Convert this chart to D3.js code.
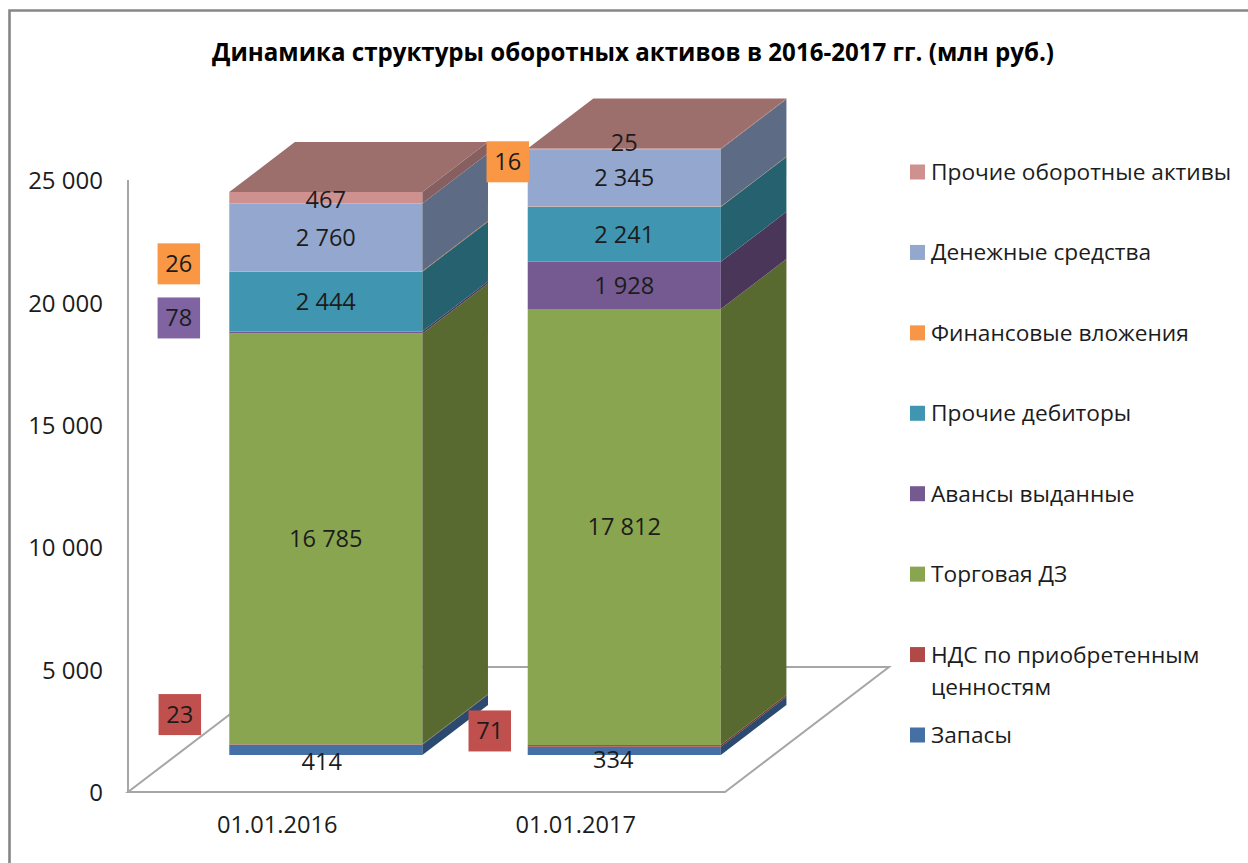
<!DOCTYPE html>
<html lang="ru">
<head>
<meta charset="utf-8">
<script src="https://cdn.jsdelivr.net/npm/d3@7/dist/d3.min.js"></script>
<style>
html,body{margin:0;padding:0;background:#fff;}
svg{display:block;}
text{font-family:"Open Sans",sans-serif;fill:#1c1c1c;}
</style>
</head>
<body>
<svg id="c" width="1248" height="863"></svg>
<script>
const title = "Динамика структуры оборотных активов в 2016-2017 гг. (млн руб.)";
const categories = ["01.01.2016", "01.01.2017"];
const seriesNames = ["Запасы", "НДС по приобретенным ценностям", "Торговая ДЗ", "Авансы выданные", "Прочие дебиторы", "Финансовые вложения", "Денежные средства", "Прочие оборотные активы"];
const values2016 = [414, 23, 16785, 78, 2444, 26, 2760, 467];
const values2017 = [334, 71, 17812, 1928, 2241, 16, 2345, 25];
const frontColors = ["#4470a6", "#b14a47", "#8aa54f", "#745a90", "#4096b1", "#f79646", "#94a8cf", "#cf9190"];
const sideColors = ["#2b4a70", "#75302e", "#596a31", "#4a3658", "#26616f", "#a4622c", "#5d6b84", "#866060"];
const boxColors = {1: "#c0504d", 3: "#8064a2", 5: "#f99745"};
const topColor = "#9c6e6c";
const yTicks = [0, 5000, 10000, 15000, 20000, 25000];

const columns = [values2016, values2017];
const fmt = v => d3.format(",")(v).replace(/,/g, " ");

// Scales: the front floor edge carries the categories, the wall carries the values
const x = d3.scaleBand().domain(categories).range([128, 725]).paddingInner(0.353).paddingOuter(0.1767);
const y = d3.scaleLinear().domain([0, 25000]).range([792, 180]);
const depth = {x: d3.scaleLinear().domain([0, 1]).range([0, 164]), y: d3.scaleLinear().domain([0, 1]).range([0, -125])};
const barZ = [0.296, 0.696];
const project = (px, v, z) => [px + depth.x(z), y(v) + depth.y(z)];
const poly = pts => pts.map(p => p.join(",")).join(" ");

const svg = d3.select("#c");

// Outer chart frame (top and left visible)
svg.append("path").attr("d", "M9.5,863V10.5H1248").attr("fill", "none").attr("stroke", "#868686").attr("stroke-width", 2.6);

// Floor and wall
const floorCorners = [[128, 0, 0], [725, 0, 0], [725, 0, 1], [128, 0, 1]];
svg.append("polygon").attr("points", poly(floorCorners.map(c => project(...c))))
  .attr("fill", "#fff").attr("stroke", "#a6a6a6").attr("stroke-width", 2);
svg.append("line").attr("x1", x.range()[0]).attr("x2", x.range()[0]).attr("y1", y(0)).attr("y2", y(25000))
  .attr("stroke", "#a6a6a6").attr("stroke-width", 2);

// Axes
const yAxis = d3.axisLeft(y).tickValues(yTicks).tickFormat(fmt).tickSize(0).tickPadding(25);
const gy = svg.append("g").attr("transform", "translate(128,1)").call(yAxis);
gy.select(".domain").remove();
gy.selectAll("text").attr("font-size", 24).attr("font-family", '"Open Sans",sans-serif');
const xAxis = d3.axisBottom(x).tickSize(0).tickPadding(24);
const gx = svg.append("g").attr("transform", "translate(0,792)").call(xAxis);
gx.select(".domain").remove();
gx.selectAll("text").attr("font-size", 23.6).attr("font-family", '"Open Sans",sans-serif');

// Stacked 3-D columns
categories.forEach((cat, ci) => {
  const vals = columns[ci];
  const x0 = x(cat), x1 = x0 + x.bandwidth();
  const g = svg.append("g");
  let acc = 0;
  const segs = vals.map((v, i) => { const s = {i, v, a: acc, b: acc + v}; acc += v; return s; });
  segs.forEach(s => {
    g.append("polygon").attr("points", poly([
      project(x0, s.a, barZ[0]), project(x1, s.a, barZ[0]), project(x1, s.b, barZ[0]), project(x0, s.b, barZ[0])
    ])).attr("fill", frontColors[s.i]);
    g.append("polygon").attr("points", poly([
      project(x1, s.a, barZ[0]), project(x1, s.a, barZ[1]), project(x1, s.b, barZ[1]), project(x1, s.b, barZ[0])
    ])).attr("fill", sideColors[s.i]);
  });
  g.append("polygon").attr("points", poly([
    project(x0, acc, barZ[0]), project(x1, acc, barZ[0]), project(x1, acc, barZ[1]), project(x0, acc, barZ[1])
  ])).attr("fill", topColor);
});

// Data labels. Small segments were moved aside by hand in the original: boxed ones by an offset from the bar centre.
const labelNudge = {
  "0-0": [-4, 12], "0-1": [-146, -30], "0-3": [-147, -14.5], "0-5": [-147, -7.5], "0-7": [0, 1.5],
  "1-0": [-11, 9], "1-1": [-134.5, -15], "1-5": [-116.5, -45], "1-7": [0, -6]
};
const boxed = new Set(["0-1", "0-3", "0-5", "1-1", "1-5"]);
categories.forEach((cat, ci) => {
  const vals = columns[ci];
  let acc = 0;
  vals.forEach((v, i) => {
    const key = ci + "-" + i;
    const n = labelNudge[key] || [0, 0];
    const [cx0, cy0] = project(x(cat) + x.bandwidth() / 2, acc + v / 2, barZ[0]);
    const cx = cx0 + n[0], cy = cy0 + n[1];
    if (boxed.has(key)) {
      svg.append("rect").attr("x", cx - 21.25).attr("y", cy - 20.5).attr("width", 42.5).attr("height", 41).attr("fill", boxColors[i]);
    }
    svg.append("text").attr("x", cx).attr("y", cy).attr("text-anchor", "middle").attr("dy", "0.35em")
      .attr("font-size", 23.6).text(fmt(v));
    acc += v;
  });
});

// Legend
const legendOrder = seriesNames.map((_, i) => i).reverse();
const ly = d3.scalePoint().domain(legendOrder).range([172, 735]);
legendOrder.forEach(i => {
  const cy = ly(i);
  svg.append("rect").attr("x", 910).attr("y", cy - 7.5).attr("width", 15).attr("height", 15).attr("fill", frontColors[i]);
  const name = seriesNames[i];
  const t = svg.append("text").attr("x", 931).attr("y", cy).attr("dy", "0.35em").attr("font-size", 22.7);
  if (name.startsWith("НДС")) {
    t.text("НДС по приобретенным");
    svg.append("text").attr("x", 931).attr("y", cy + 32).attr("dy", "0.35em").attr("font-size", 22.7).text("ценностям");
  } else t.text(name);
});

// Title
svg.append("text").attr("x", 633).attr("y", 53).attr("dy", "0.35em").attr("text-anchor", "middle")
  .attr("font-size", 24.1).attr("font-weight", 700).style("fill", "#000").text(title);
</script>
</body>
</html>
